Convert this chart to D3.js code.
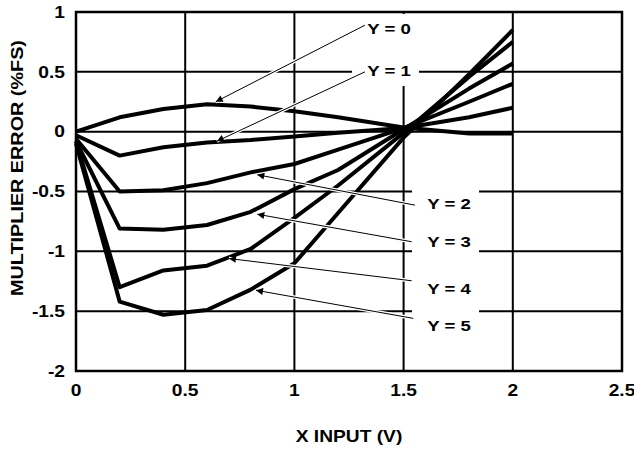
<!DOCTYPE html>
<html>
<head>
<meta charset="utf-8">
<script src="https://cdn.jsdelivr.net/npm/d3@7"></script>
<style>
  html, body { margin: 0; padding: 0; background: #fff; }
  #chart { width: 634px; height: 449px; }
  text { font-family: "Liberation Sans", Arial, sans-serif; font-weight: bold; fill: #000; }
</style>
</head>
<body>
<div id="chart"></div>
<script>
// 数据: X 输入 (V)
const xInput = [0, 0.2, 0.4, 0.6, 0.8, 1.0, 1.2, 1.5, 1.8, 2.0];

// 每条曲线的误差 (%FS)
const errY0 = [0, 0.12, 0.19, 0.23, 0.21, 0.17, 0.12, 0.035, -0.015, -0.015];
const errY1 = [-0.03, -0.20, -0.13, -0.09, -0.07, -0.04, -0.01, 0.03, 0.12, 0.20];
const errY2 = [-0.06, -0.50, -0.49, -0.43, -0.34, -0.27, -0.15, 0.03, 0.25, 0.40];
const errY3 = [-0.08, -0.81, -0.82, -0.78, -0.67, -0.48, -0.32, 0.02, 0.36, 0.57];
const errY4 = [-0.08, -1.30, -1.16, -1.12, -0.98, -0.72, -0.45, -0.01, 0.46, 0.75];
const errY5 = [-0.10, -1.42, -1.53, -1.49, -1.32, -1.10, -0.68, -0.05, 0.48, 0.85];

const seriesNames = ['Y = 0', 'Y = 1', 'Y = 2', 'Y = 3', 'Y = 4', 'Y = 5'];

// 刻度
const xTicks = [0, 0.5, 1, 1.5, 2, 2.5];
const yTicks = [1, 0.5, 0, -0.5, -1, -1.5, -2];

// 标注: 文字位置, 箭头尾部, 箭头尖端 (数据坐标)
const labelPos  = [[1.433, 0.865], [1.433, 0.515], [1.708, -0.597], [1.708, -0.92], [1.708, -1.31], [1.708, -1.617]];
const arrowTail = [[1.323, 0.89], [1.323, 0.50], [1.552, -0.614], [1.537, -0.92], [1.537, -1.246], [1.544, -1.56]];
const arrowTip  = [[0.64, 0.25], [0.645, -0.08], [0.83, -0.36], [0.83, -0.69], [0.70, -1.06], [0.824, -1.325]];

const TEXT_STRETCH = 1.2;

function drawChart() {
    const width = 634, height = 449;
    const margin = { left: 76, top: 12, right: 12, bottom: 78 };

    const svg = d3.select('#chart').append('svg')
        .attr('width', width)
        .attr('height', height);

    const x = d3.scaleLinear().domain([0, 2.5]).range([margin.left, width - margin.right]);
    const y = d3.scaleLinear().domain([-2, 1]).range([height - margin.bottom, margin.top]);

    // 箭头
    svg.append('defs').append('marker')
        .attr('id', 'head')
        .attr('viewBox', '0 0 10 10')
        .attr('refX', 10).attr('refY', 5)
        .attr('markerWidth', 13).attr('markerHeight', 7)
        .attr('markerUnits', 'userSpaceOnUse')
        .attr('orient', 'auto')
        .append('path').attr('d', 'M0,0 L10,5 L0,10 Z').attr('fill', '#000');

    // 网格线
    const grid = svg.append('g').attr('stroke', '#000').attr('stroke-width', 2);
    grid.selectAll('line.v').data(xTicks.slice(1, -1)).join('line')
        .attr('x1', d => x(d)).attr('x2', d => x(d))
        .attr('y1', y(1)).attr('y2', y(-2));
    grid.selectAll('line.h').data(yTicks.slice(1, -1)).join('line')
        .attr('y1', d => y(d)).attr('y2', d => y(d))
        .attr('x1', x(0)).attr('x2', x(2.5));

    // 标签的白色底板 (遮住网格线)
    const boxes = svg.append('g').attr('fill', '#fff');
    const topGroup = [0, 1], lowGroup = [2, 3, 4, 5];
    [topGroup, lowGroup].forEach(group => {
        const xs = group.map(i => x(labelPos[i][0]));
        const ys = group.map(i => y(labelPos[i][1]));
        const half = 22;
        const x0 = d3.min(xs) - half - 15, x1 = d3.max(xs) + half + 8;
        const y0 = group === topGroup ? y(1) + 2 : d3.min(ys) - 18;
        const y1 = d3.max(ys) + 16;
        boxes.append('rect').attr('x', x0).attr('y', y0)
            .attr('width', x1 - x0).attr('height', y1 - y0);
    });

    // 外框
    svg.append('rect')
        .attr('x', x(0)).attr('y', y(1))
        .attr('width', x(2.5) - x(0)).attr('height', y(-2) - y(1))
        .attr('fill', 'none').attr('stroke', '#000').attr('stroke-width', 2.5);

    // 曲线
    const allSeries = [errY0, errY1, errY2, errY3, errY4, errY5];
    const line = d3.line().x((d, i) => x(xInput[i])).y(d => y(d));
    svg.append('g').selectAll('path').data(allSeries).join('path')
        .attr('d', line)
        .attr('fill', 'none').attr('stroke', '#000')
        .attr('stroke-width', 4).attr('stroke-linejoin', 'round');

    // 箭头线 (带白色光晕)
    const arrows = svg.append('g');
    seriesNames.forEach((name, i) => {
        const [tx, ty] = arrowTail[i], [hx, hy] = arrowTip[i];
        arrows.append('line')
            .attr('x1', x(tx)).attr('y1', y(ty)).attr('x2', x(hx)).attr('y2', y(hy))
            .attr('stroke', '#fff').attr('stroke-width', 3.5);
        arrows.append('line')
            .attr('x1', x(tx)).attr('y1', y(ty)).attr('x2', x(hx)).attr('y2', y(hy))
            .attr('stroke', '#000').attr('stroke-width', 1)
            .attr('marker-end', 'url(#head)');
    });

    // 拉宽的文字
    function stretchText(px, py, str, anchor, size, rotate) {
        const g = svg.append('g')
            .attr('transform', `translate(${px},${py})` + (rotate ? ` rotate(${rotate})` : '') + ` scale(${TEXT_STRETCH},1)`);
        return g.append('text')
            .attr('text-anchor', anchor)
            .attr('dy', '0.36em')
            .attr('font-size', size)
            .text(str);
    }

    seriesNames.forEach((name, i) => {
        stretchText(x(labelPos[i][0]), y(labelPos[i][1]), name, 'middle', 15.5);
    });

    // 刻度文字
    yTicks.forEach(v => stretchText(x(0) - 11, y(v), String(v), 'end', 16));
    xTicks.forEach(v => stretchText(x(v), y(-2) + 19, String(v), 'middle', 16));

    // 坐标轴标题
    stretchText((x(0) + x(2.5)) / 2, 436, 'X INPUT (V)', 'middle', 16);
    stretchText(17, 168, 'MULTIPLIER ERROR (%FS)', 'middle', 16.5, -90);

    console.log('[CHART] 绘制完成');
}

drawChart();
</script>
</body>
</html>
